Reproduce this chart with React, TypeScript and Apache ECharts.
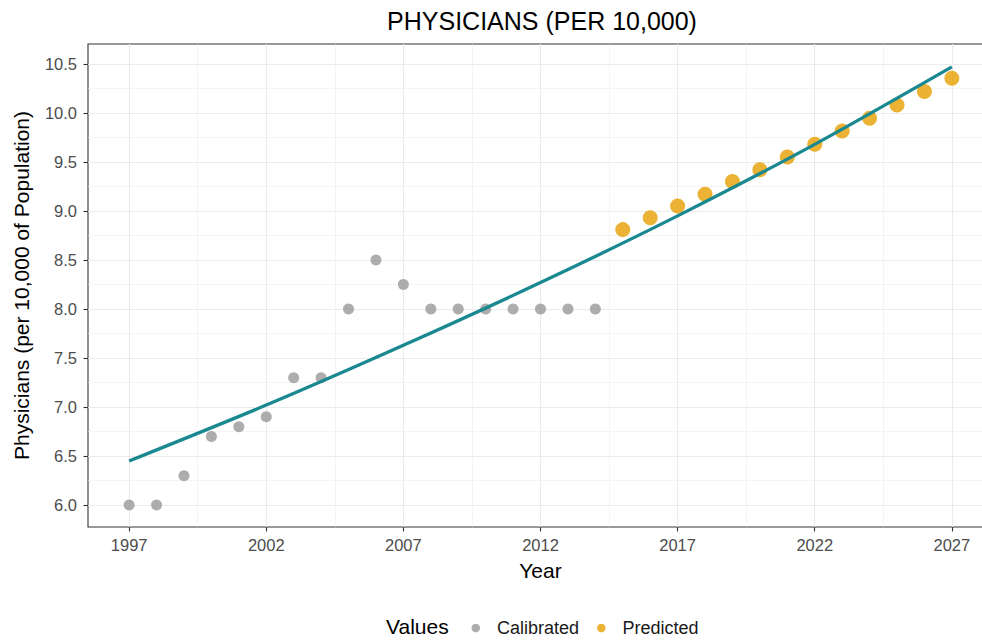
import React, { useEffect, useRef } from "react";
import * as echarts from "echarts";

// Observed (calibrated) physicians per 10,000 population
const calibratedYears = [1997, 1998, 1999, 2000, 2001, 2002, 2003, 2004, 2005, 2006, 2007, 2008, 2009, 2010, 2011, 2012, 2013, 2014];
const calibratedValues = [6.0, 6.0, 6.3, 6.7, 6.8, 6.9, 7.3, 7.3, 8.0, 8.5, 8.25, 8.0, 8.0, 8.0, 8.0, 8.0, 8.0, 8.0];

// Model projections
const predictedYears = [2015, 2016, 2017, 2018, 2019, 2020, 2021, 2022, 2023, 2024, 2025, 2026, 2027];
const predictedValues = [8.81, 8.93, 9.05, 9.17, 9.3, 9.42, 9.55, 9.68, 9.815, 9.947, 10.08, 10.218, 10.355];

// Fitted trend curve
const trendYears = [1997, 2002, 2007, 2012, 2017, 2022, 2027];
const trendValues = [6.45, 7.02, 7.63, 8.27, 8.95, 9.68, 10.47];

// Axis breaks
const xMajorTicks = [1997, 2002, 2007, 2012, 2017, 2022, 2027];
const xMinorTicks = [1999.5, 2004.5, 2009.5, 2014.5, 2019.5, 2024.5];
const yMajorTicks = [6.0, 6.5, 7.0, 7.5, 8.0, 8.5, 9.0, 9.5, 10.0, 10.5];
const yMinorTicks = [6.25, 6.75, 7.25, 7.75, 8.25, 8.75, 9.25, 9.75, 10.25];

const FONT = "Liberation Sans, Arial, Helvetica, sans-serif";
const GRID_COLOR = "#EBEBEB";
const INK = "#333333";

export default function App() {
  const ref = useRef<HTMLDivElement>(null);

  useEffect(() => {
    document.body.style.margin = "0";
    if (!ref.current) return;
    const chart = echarts.init(ref.current, null, { renderer: "svg" });

    const xRange = { min: 1995.5, max: 2028.5 };
    const yRange = { min: 5.7765, max: 10.7035 };

    const option: any = {
      animation: false,
      backgroundColor: "#ffffff",
      textStyle: { fontFamily: FONT },
      title: {
        text: "PHYSICIANS (PER 10,000)",
        left: 537,
        top: 3,
        textAlign: "center",
        textStyle: { fontFamily: FONT, fontSize: 25, fontWeight: "normal", color: "#000000" },
      },
      grid: {
        left: 88,
        top: 44,
        right: -11,
        bottom: 113,
        show: true,
        borderColor: INK,
        borderWidth: 1.1,
        backgroundColor: "transparent",
        containLabel: false,
        outerBoundsMode: "none",
      },
      legend: {
        data: ["Calibrated", "Predicted"],
        left: 466.5,
        top: 614,
        icon: "circle",
        itemWidth: 8.5,
        itemHeight: 8.5,
        itemGap: 18,
        textStyle: { fontFamily: FONT, fontSize: 18, color: "#1a1a1a", padding: [0, 0, 0, 12] },
      },
      graphic: [
        {
          type: "text",
          left: 386,
          top: 616,
          style: { text: "Values", fontFamily: FONT, fontSize: 21, fill: "#000000" },
        },
      ],
      xAxis: [
        {
          type: "value",
          ...xRange,
          name: "Year",
          nameLocation: "middle",
          nameGap: 33,
          nameTextStyle: { fontFamily: FONT, fontSize: 21, color: "#000000" },
          axisLine: { show: false },
          axisTick: { show: true, length: 4.5, lineStyle: { color: INK, width: 1.1 }, customValues: xMajorTicks },
          axisLabel: {
            customValues: xMajorTicks,
            margin: 9,
            fontFamily: FONT,
            fontSize: 16.5,
            color: "#4D4D4D",
            formatter: (v: number) => String(v),
          },
          splitLine: { show: true, lineStyle: { color: GRID_COLOR, width: 1.1 } },
          z: 1,
        },
        {
          type: "value",
          ...xRange,
          gridIndex: 0,
          position: "bottom",
          axisLine: { show: false },
          axisTick: { show: false, customValues: xMinorTicks },
          axisLabel: { show: false, customValues: xMinorTicks },
          splitLine: { show: true, lineStyle: { color: GRID_COLOR, width: 0.55 } },
          z: 0,
        },
      ],
      yAxis: [
        {
          type: "value",
          ...yRange,
          name: "Physicians (per 10,000 of Population)",
          nameLocation: "middle",
          nameGap: 56,
          nameTextStyle: { fontFamily: FONT, fontSize: 21, color: "#000000" },
          axisLine: { show: false },
          axisTick: { show: true, length: 4.5, lineStyle: { color: INK, width: 1.1 }, customValues: yMajorTicks },
          axisLabel: {
            customValues: yMajorTicks,
            margin: 11,
            fontFamily: FONT,
            fontSize: 16.5,
            color: "#4D4D4D",
            formatter: (v: number) => v.toFixed(1),
          },
          splitLine: { show: true, lineStyle: { color: GRID_COLOR, width: 1.1 } },
          z: 1,
        },
        {
          type: "value",
          ...yRange,
          gridIndex: 0,
          position: "left",
          axisLine: { show: false },
          axisTick: { show: false, customValues: yMinorTicks },
          axisLabel: { show: false, customValues: yMinorTicks },
          splitLine: { show: true, lineStyle: { color: GRID_COLOR, width: 0.55 } },
          z: 0,
        },
      ],
      series: [
        {
          name: "Calibrated",
          type: "scatter",
          data: calibratedYears.map((y, i) => [y, calibratedValues[i]]),
          symbol: "circle",
          symbolSize: 11,
          itemStyle: { color: "#999999" },
          z: 3,
        },
        {
          name: "Predicted",
          type: "scatter",
          data: predictedYears.map((y, i) => [y, predictedValues[i]]),
          symbol: "circle",
          symbolSize: 15,
          itemStyle: { color: "#E69F00" },
          z: 3,
        },
        {
          name: "Trend",
          type: "line",
          data: trendYears.map((y, i) => [y, trendValues[i]]),
          smooth: 0.3,
          showSymbol: false,
          lineStyle: { color: "#1A8890", width: 3.3 },
          itemStyle: { color: "#1A8890" },
          z: 4,
        },
      ],
    };

    chart.setOption(option);
    return () => chart.dispose();
  }, []);

  return <div ref={ref} style={{ position: "absolute", left: 0, top: 0, width: 982, height: 640 }} />;
}
